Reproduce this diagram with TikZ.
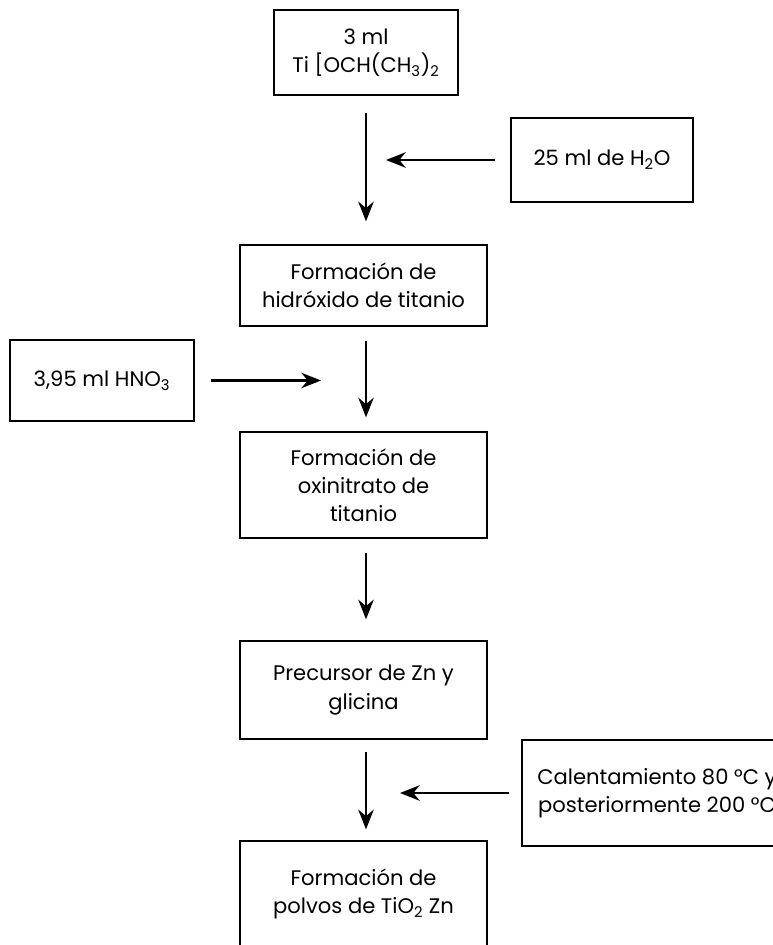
\documentclass[tikz,border=0pt]{standalone}
\usepackage{fontspec}
\setmainfont{Poppins}
\usepackage{tikz}
\usetikzlibrary{arrows, arrows.meta, positioning, calc}
\tikzstyle{block} = [rectangle, draw, line width=0.9pt, text centered, align=center, font=\fontsize{15}{20}\selectfont]
\tikzstyle{arrow} = [line width=1.5pt,->,>={Stealth[length=14pt,width=11pt]}]

\begin{document}
\begin{tikzpicture}[x=0.025cm, y=-0.025cm]
      \useasboundingbox (0,0) rectangle (772,945);

      % Define main column of blocks
      \node [block, minimum width=4.6cm, minimum height=2.125cm] (ti) at (366,52.5) {3 ml\\Ti [OCH(CH\textsubscript{3})\textsubscript{2}};
      \node [block, minimum width=6.175cm, minimum height=2.025cm] (hid) at (363.5,285.5) {Formación de\\hidróxido de titanio};
      \node [block, minimum width=6.175cm, minimum height=2.65cm] (oxi) at (363.5,485) {Formación de\\oxinitrato de\\titanio};
      \node [block, minimum width=6.175cm, minimum height=2.45cm] (pre) at (363.5,690) {Precursor de Zn y\\glicina};
      \node [block, minimum width=6.175cm, minimum height=2.65cm] (pol) at (363.5,894) {Formación de\\polvos de TiO\textsubscript{2} Zn};

      % Define side inputs
      \node [block, minimum width=4.55cm, minimum height=2.1cm] (agua) at (602,160) {25 ml de H\textsubscript{2}O};
      \node [block, minimum width=4.6cm, minimum height=2.025cm] (acido) at (102,380.5) {3,95 ml HNO\textsubscript{3}};
      \node [block, minimum width=6.75cm, minimum height=2.65cm] (calor) at (657,793) {Calentamiento 80 °C y\\posteriormente 200 °C};

      % Free ends of the side arrows
      \coordinate (e1) at (386,160);
      \coordinate (e2) at (321,380.5);
      \coordinate (e3) at (400,793);

      % Vertical arrows
      \draw [arrow, shorten <=0.425cm, shorten >=0.575cm] (ti.south) -- (ti.south |- hid.north);
      \draw [arrow, shorten <=0.35cm, shorten >=0.35cm] (ti.south |- hid.south) -- (ti.south |- oxi.north);
      \draw [arrow, shorten <=0.35cm, shorten >=0.525cm] (ti.south |- oxi.south) -- (ti.south |- pre.north);
      \draw [arrow, shorten <=0.3cm, shorten >=0.275cm] (ti.south |- pre.south) -- (ti.south |- pol.north);

      % Side arrows
      \draw [arrow, shorten <=0.375cm] (agua.west) -- (e1);
      \draw [arrow, shorten <=0.4cm] (acido.east) -- (e2);
      \draw [arrow, shorten <=0.3cm] (calor.west) -- (e3);
\end{tikzpicture}
\end{document}
